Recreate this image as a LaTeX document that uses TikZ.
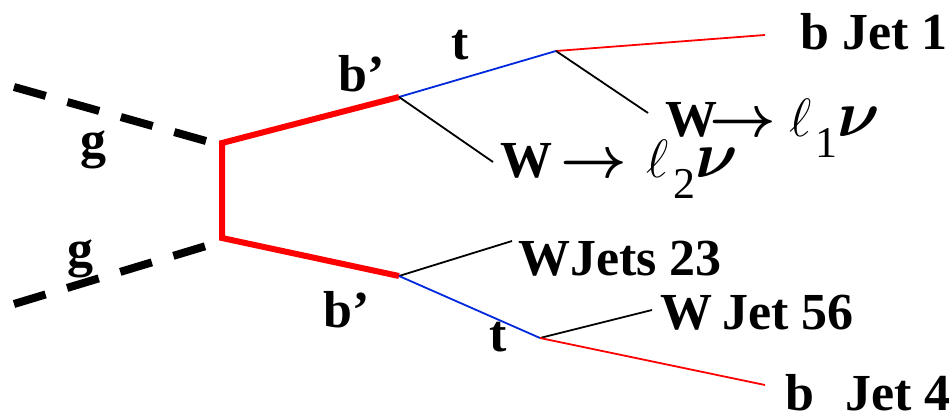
\RequirePackage{fix-cm}
\documentclass[tikz,border=0pt]{standalone}
\usepackage{fontspec}
\setmainfont{Liberation Serif}
\definecolor{pred}{RGB}{255,0,0}
\definecolor{pblue}{RGB}{0,40,220}
\newcommand{\msz}[1]{\fontsize{#1}{#1}\selectfont}
\newcommand{\subdig}[1]{\raisebox{-21pt}{\fontsize{44}{50}\selectfont\mdseries #1}}
\begin{document}
\begin{tikzpicture}[x=1pt,y=-1pt,
  lbl/.style={font=\fontsize{52}{60}\selectfont\bfseries, inner sep=0pt, anchor=base west},
  gluon/.style={line width=8pt, dash pattern=on 33pt off 22.5pt},
  heavy/.style={pred, line width=6pt, line join=miter},
  thin/.style={line width=1.8pt}]
\useasboundingbox (0,0) rectangle (950,419);
% vertices
\coordinate (ga1) at (14,87);
\coordinate (gb1) at (206,141);
\coordinate (ga2) at (14,304);
\coordinate (gb2) at (206,246);
\coordinate (v1) at (222,143);
\coordinate (v2) at (222,238);
\coordinate (u1) at (399,97);
\coordinate (d1) at (399,276);
\coordinate (u2) at (556,51);
\coordinate (d2) at (540,338);
\coordinate (bj1) at (765,35);
\coordinate (w1) at (648,113);
\coordinate (w2) at (493,162);
\coordinate (w3) at (512,241);
\coordinate (w4) at (652,310);
\coordinate (bj4) at (765,385);
% gluons
\draw[gluon] (ga1) -- (gb1);
\draw[gluon] (ga2) -- (gb2);
% b' lines
\draw[heavy] (u1) -- (v1) -- (v2) -- (d1);
% decays
\draw[thin, pblue] (u1) -- (u2);
\draw[thin, pred] (u2) -- (bj1);
\draw[thin] (u2) -- (w1);
\draw[thin] (u1) -- (w2);
\draw[thin] (d1) -- (w3);
\draw[thin, pblue] (d1) -- (d2);
\draw[thin] (d2) -- (w4);
\draw[thin, pred] (d2) -- (bj4);
% labels
\node[lbl] (lg1) at (80,158) {g};
\node[lbl] (lg2) at (67,267) {g};
\node[lbl] (lbp1) at (338,92) {b’};
\node[lbl] (lbp2) at (323,328) {b’};
\node[lbl] (lt1) at (451,60) {t};
\node[lbl] (lt2) at (489,352) {t};
\node[lbl] (lb1) at (800,50) {b Jet 1};
\node[lbl] (lw1) at (665,137) {W\kern-8pt{\msz{58}\boldmath$\rightarrow$}\kern14pt{\msz{54}$\ell$}\kern3pt\subdig{1}{\msz{66}\boldmath$\nu$}};
\node[lbl] (lw2) at (500,178) {W\kern8pt{\msz{58}\boldmath$\rightarrow$}\kern20pt{\msz{54}$\ell$}\kern4pt\subdig{2}{\msz{66}\boldmath$\nu$}};
\node[lbl] (lw3) at (518,276) {WJets 23};
\node[lbl] (lw4) at (660,330) {W\kern10pt Jet 56};
\node[lbl] (lb4) at (785,410) {b};
\node[lbl] (lj4) at (845,410) {Jet 4};
\end{tikzpicture}
\end{document}
